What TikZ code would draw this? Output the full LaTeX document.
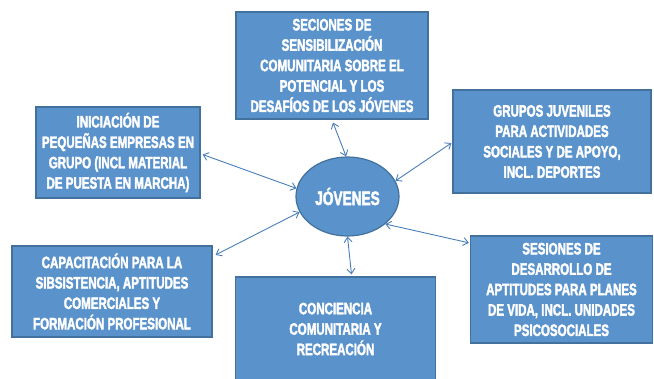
\documentclass[tikz,border=0pt]{standalone}
\usepackage{fontspec}
\setmainfont{Liberation Sans}
\newfontfamily\condbold{Liberation Sans Bold}[FakeStretch=0.70,FakeBold=2.2]
\usetikzlibrary{shapes.geometric,arrows.meta}

\definecolor{boxfill}{RGB}{90,146,203}
\definecolor{boxline}{RGB}{65,113,156}
\definecolor{linkblue}{RGB}{74,126,187}

\begin{document}
\begin{tikzpicture}[x=1pt,y=-1pt,
  box/.style={draw=boxline,fill=boxfill,line width=1.2pt,inner sep=0pt,
    align=center,text=white,font=\condbold\fontsize{16.5}{20.4}\selectfont},
  link/.style={draw=linkblue,line width=0.9pt,
    {Straight Barb[length=5pt,width=8pt]}-{Straight Barb[length=5pt,width=8pt]}}]

\useasboundingbox (0,0) rectangle (654,379);

\node[box,ellipse,minimum width=103pt,minimum height=79pt,
  font=\condbold\fontsize{19.5}{22}\selectfont] (jovenes) at (347.5,196.5) {JÓVENES};

\node[box,minimum width=192pt,minimum height=107pt] (sesiones) at (332,65.5)
  {SECIONES DE\\SENSIBILIZACIÓN\\COMUNITARIA SOBRE EL\\POTENCIAL Y LOS\\DESAFÍOS DE LOS JÓVENES};
\node[box,minimum width=164pt,minimum height=91pt] (iniciacion) at (118,152.5)
  {INICIACIÓN DE\\PEQUEÑAS EMPRESAS EN\\GRUPO (INCL MATERIAL\\DE PUESTA EN MARCHA)};
\node[box,minimum width=198pt,minimum height=103pt] (grupos) at (552,141.5)
  {GRUPOS JUVENILES\\PARA ACTIVIDADES\\SOCIALES Y DE APOYO,\\INCL. DEPORTES};
\node[box,minimum width=200pt,minimum height=91pt] (capacitacion) at (112,291.5)
  {CAPACITACIÓN PARA LA\\SIBSISTENCIA, APTITUDES\\COMERCIALES Y\\FORMACIÓN PROFESIONAL};
\node[box,minimum width=200pt,minimum height=104pt] (conciencia) at (335.5,329)
  {CONCIENCIA\\COMUNITARIA Y\\RECREACIÓN};
\node[box,minimum width=182pt,minimum height=107pt] (desarrollo) at (561.5,289.5)
  {SESIONES DE\\DESARROLLO DE\\APTITUDES PARA PLANES\\DE VIDA, INCL. UNIDADES\\PSICOSOCIALES};

% connectors
\draw[link] ([xshift=1pt,yshift=-3pt]sesiones.south) -- (jovenes.92);
\draw[link] ([xshift=2pt,yshift=-2pt]iniciacion.east) -- (jovenes.171);
\draw[link] ([xshift=-1pt,yshift=-1.5pt]grupos.west) -- (jovenes.18);
\draw[link] ([xshift=3pt]capacitacion.20) -- (jovenes.198);
\draw[link] ([xshift=16pt,yshift=2pt]conciencia.north) -- (jovenes.270);
\draw[link] ([xshift=-1pt]desarrollo.153) -- (jovenes.324);

\end{tikzpicture}
\end{document}
